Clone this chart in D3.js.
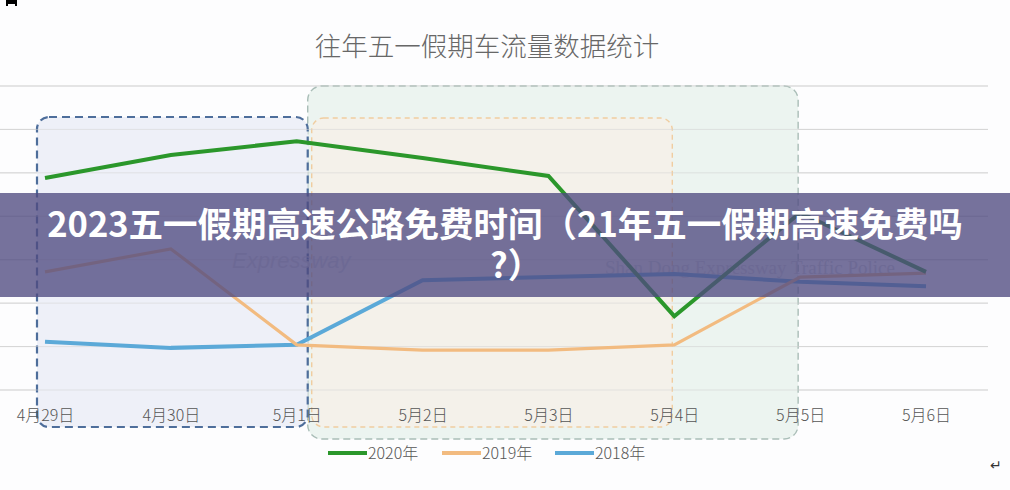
<!DOCTYPE html>
<html><head><meta charset="utf-8">
<script src="https://cdn.jsdelivr.net/npm/d3@7/dist/d3.min.js"></script>
<style>
html,body{margin:0;padding:0;background:#fff;}
svg{display:block;}
</style></head>
<body>
<svg id="chart" width="1010" height="490"></svg>
<script>
const categories = ["4月29日","4月30日","5月1日","5月2日","5月3日","5月4日","5月5日","5月6日"];
const seriesNames = ["2020年","2019年","2018年"];
const values2020 = [48.8, 54.1, 57.3, 53.4, 49.3, 17.0, 40.8, 27.2];
const values2019 = [27.2, 32.5, 10.4, 9.2, 9.2, 10.4, 26.0, 26.9];
const values2018 = [11.1, 9.7, 10.4, 25.3, 26.0, 26.7, 24.9, 23.9];
const colors = ["#2b972b", "#f2bb80", "#5ba9d8"];
const yTicks = [0,10,20,30,40,50,60,70];
const title = "往年五一假期车流量数据统计";
const bannerLine1 = "2023五一假期高速公路免费时间（21年五一假期高速免费吗";
const bannerLine2 = "?）";

const svg = d3.select("#chart");
const font = "'Noto Sans CJK SC','Noto Sans',sans-serif";

const x = d3.scalePoint().domain(categories).range([45, 926]);
const y = d3.scaleLinear().domain([0, 70]).range([390, 86]);

svg.append("rect").attr("width",1010).attr("height",490).attr("fill","#fdfdfe");

// title
svg.append("text").attr("x",487).attr("y",56).attr("text-anchor","middle")
  .attr("font-family",font).attr("font-size",26.5).attr("font-weight",300)
  .attr("fill","#676767").text(title);

// gridlines
svg.append("g").selectAll("line").data(yTicks).join("line")
  .attr("x1",0).attr("x2",988)
  .attr("y1",d=>y(d)).attr("y2",d=>y(d))
  .attr("stroke","#d9d9d9").attr("stroke-width",1);

// annotation boxes
const boxes = svg.append("g");
// teal box (5/1 - 5/5)
boxes.append("rect")
  .attr("x", x("5月1日")+11).attr("y", y(70))
  .attr("width", x("5月5日")-2 - (x("5月1日")+11)).attr("height", 439 - y(70))
  .attr("rx",14).attr("fill","#eaf3ef").attr("fill-opacity",0.92)
  .attr("stroke","#a9bdb7").attr("stroke-width",1.4).attr("stroke-dasharray","7,4");
// blue box (4/29 - 5/1)
boxes.append("rect")
  .attr("x", x("4月29日")-8).attr("y", 117)
  .attr("width", x("5月1日")+11 - (x("4月29日")-8)).attr("height", 427-117)
  .attr("rx",12).attr("fill","#eef0f8")
  .attr("stroke","#4e6e9b").attr("stroke-width",2.2).attr("stroke-dasharray","8,5");
// orange box (5/1 - 5/4)
boxes.append("rect")
  .attr("x", x("5月1日")+15).attr("y", 118)
  .attr("width", x("5月4日")-2 - (x("5月1日")+15)).attr("height", 427-118)
  .attr("rx",12).attr("fill","#f4f1ea")
  .attr("stroke","#f0cda0").attr("stroke-width",1.4).attr("stroke-dasharray","5,4");

// redraw gridlines faintly over boxes
svg.append("g").selectAll("line").data(yTicks).join("line")
  .attr("x1",0).attr("x2",988)
  .attr("y1",d=>y(d)).attr("y2",d=>y(d))
  .attr("stroke","#d4d4d4").attr("stroke-width",0.8).attr("stroke-opacity",0.7);

// watermark text
svg.append("text").attr("x",232).attr("y",268).attr("font-family","'Liberation Sans',sans-serif")
  .attr("font-size",22).attr("font-style","italic").attr("fill","#c9cbd6").attr("opacity",0.7).text("Expressway");
svg.append("text").attr("x",605).attr("y",274).attr("font-family","'Liberation Serif',serif")
  .attr("font-size",19).attr("fill","#c5c8cc").attr("opacity",0.7).text("Shan Dong Expressway Traffic Police");

// x axis labels
const xAxis = d3.axisBottom(x).tickSize(0).tickPadding(0);
const gx = svg.append("g").attr("transform","translate(0,407)").call(xAxis);
gx.select(".domain").remove();
gx.selectAll("text").attr("font-family",font).attr("font-size",16).attr("font-weight",300)
  .attr("fill","#555").attr("dy","0.9em");

// lines
const allSeries = [values2020, values2019, values2018];
const line = d3.line().x((d,i)=>x(categories[i])).y(d=>y(d));
const widths = [4, 3.2, 4];
[2,1,0].forEach(k=>{
  svg.append("path").datum(allSeries[k]).attr("d",line)
    .attr("fill","none").attr("stroke",colors[k]).attr("stroke-width",widths[k])
    .attr("stroke-linejoin","miter").attr("stroke-linecap","butt");
});

// legend
const legendX = [328, 442, 555];
const lg = svg.append("g");
seriesNames.forEach((n,i)=>{
  lg.append("line").attr("x1",legendX[i]).attr("x2",legendX[i]+39)
    .attr("y1",453).attr("y2",453).attr("stroke",colors[i]).attr("stroke-width",4);
  lg.append("text").attr("x",legendX[i]+40).attr("y",459)
    .attr("font-family",font).attr("font-size",16).attr("font-weight",300)
    .attr("fill","#555").text(n);
});

// corner marks
svg.append("path").attr("d","M7,6 L7,1 L16,1 L16,6 M7,3 L16,3").attr("stroke","#000").attr("stroke-width",2).attr("fill","none");
svg.append("text").attr("x",990).attr("y",470).attr("font-family","'DejaVu Sans',sans-serif")
  .attr("font-size",14).attr("fill","#333").text("↵");

// banner overlay
svg.append("rect").attr("x",0).attr("y",193).attr("width",1010).attr("height",104)
  .attr("fill","rgb(80,74,128)").attr("fill-opacity",0.78);
svg.append("text").attr("x",505).attr("y",237).attr("text-anchor","middle")
  .attr("font-family",font).attr("font-size",34.5).attr("font-weight",700)
  .attr("fill","#fff").text(bannerLine1);
svg.append("text").attr("x",490).attr("y",278).attr("text-anchor","start")
  .attr("font-family",font).attr("font-size",34.5).attr("font-weight",700)
  .attr("fill","#fff").text(bannerLine2);
</script>
</body></html>
